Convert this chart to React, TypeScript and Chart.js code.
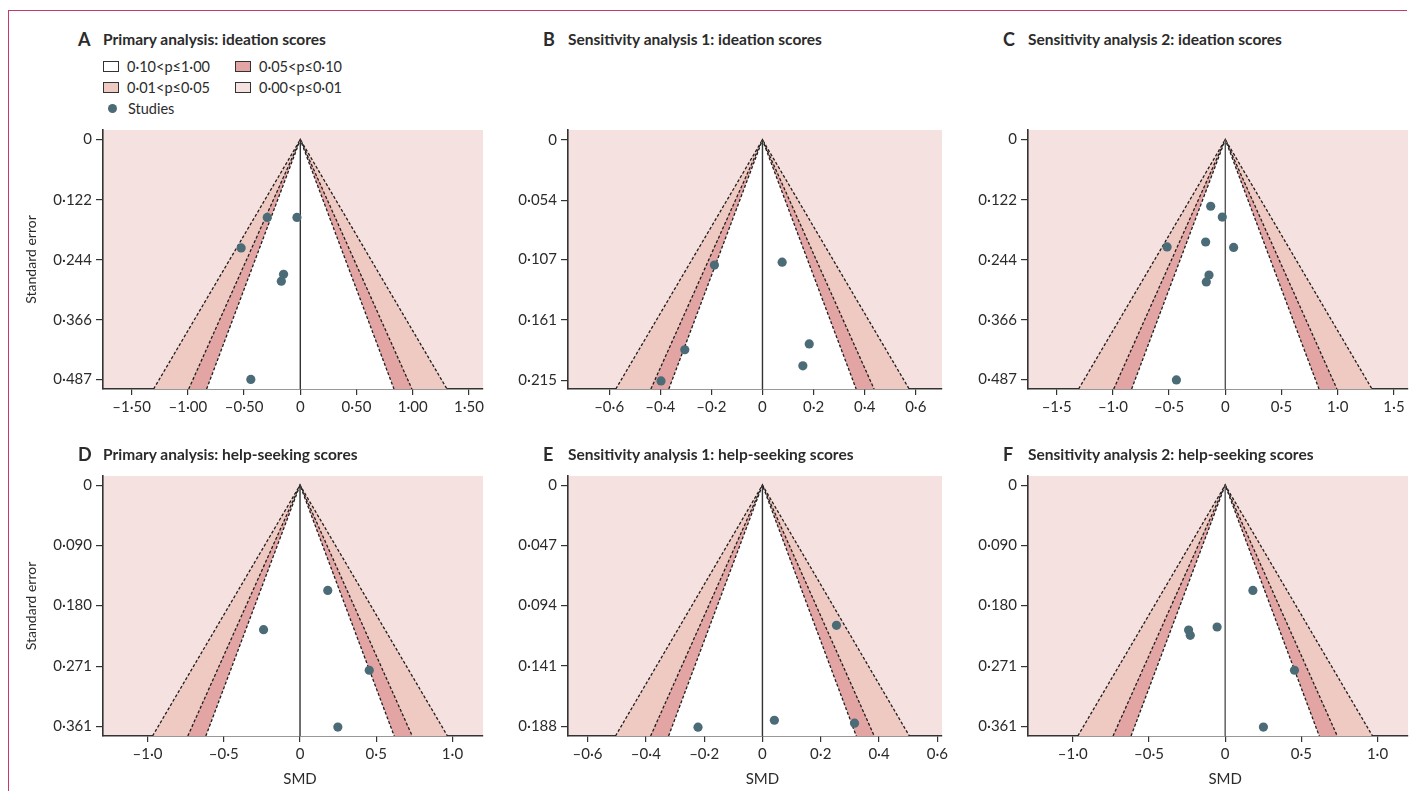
import React, { useEffect, useRef } from 'react';
import { Chart, registerables } from 'chart.js';
Chart.register(...registerables);

// ---------- data ----------
const smdA = [-0.294, -0.03, -0.526, -0.149, -0.169, -0.44];
const seA = [0.158, 0.158, 0.22, 0.2735, 0.2875, 0.487];

const smdB = [-0.188, 0.077, -0.304, 0.183, 0.158, -0.397];
const seB = [0.112, 0.1094, 0.1877, 0.1825, 0.2021, 0.2156];

const smdC = [-0.13, -0.027, -0.175, -0.518, 0.074, -0.145, -0.169, -0.435];
const seC = [0.1354, 0.1574, 0.208, 0.218, 0.219, 0.275, 0.289, 0.488];

const smdD = [0.182, -0.239, 0.454, 0.248];
const seD = [0.1575, 0.2163, 0.277, 0.362];

const smdE = [0.254, 0.041, 0.316, -0.221];
const seE = [0.1094, 0.1834, 0.1857, 0.1888];

const smdF = [0.182, -0.053, -0.24, -0.229, 0.455, 0.251];
const seF = [0.1575, 0.2123, 0.2168, 0.2247, 0.277, 0.362];

// contour z values: p = 0.01, 0.05, 0.10 (two-sided)
const contourZ = [2.576, 1.96, 1.645];

// tick values and labels
const yTicksIdeation = [0, 0.122, 0.244, 0.366, 0.487];
const yLabelsIdeation = ['0', '0·122', '0·244', '0·366', '0·487'];
const yTicksB = [0, 0.054, 0.107, 0.161, 0.215];
const yLabelsB = ['0', '0·054', '0·107', '0·161', '0·215'];
const yTicksHelp = [0, 0.09, 0.18, 0.271, 0.361];
const yLabelsHelp = ['0', '0·090', '0·180', '0·271', '0·361'];
const yTicksE = [0, 0.047, 0.094, 0.141, 0.188];
const yLabelsE = ['0', '0·047', '0·094', '0·141', '0·188'];

const xTicksA = [-1.5, -1, -0.5, 0, 0.5, 1, 1.5];
const xLabelsA = ['–1·50', '–1·00', '–0·50', '0', '0·50', '1·00', '1·50'];
const xTicksSmall = [-0.6, -0.4, -0.2, 0, 0.2, 0.4, 0.6];
const xLabelsSmall = ['–0·6', '–0·4', '–0·2', '0', '0·2', '0·4', '0·6'];
const xTicksC = [-1.5, -1, -0.5, 0, 0.5, 1, 1.5];
const xLabelsC = ['–1·5', '–1·0', '–0·5', '0', '0·5', '1·0', '1·5'];
const xTicksHelp = [-1, -0.5, 0, 0.5, 1];
const xLabelsHelp = ['–1·0', '–0·5', '0', '0·5', '1·0'];

const legendLabels = ['0·10<p≤1·00', '0·05<p≤0·10', '0·01<p≤0·05', '0·00<p≤0·01'];
const studiesLabel = 'Studies';

// ---------- styles ----------
const FONT = 'Lato, "Open Sans", "DejaVu Sans", sans-serif';
const COL_OUTER = '#f5e1df';
const COL_P05 = '#eecac2';
const COL_P10 = '#e2a5a4';
const COL_WHITE = '#ffffff';
const contourFill = [COL_P05, COL_P10, COL_WHITE];
const COL_POINT = '#4b6b76';
const COL_AXIS = '#333333';
const COL_TEXT = '#2b2b2b';

type Rect = { l: number; t: number; r: number; b: number };
type PanelDef = {
  letter: string;
  title: string;
  smd: number[];
  se: number[];
  xTicks: number[];
  xLabels: string[];
  yTicks: number[];
  yLabels: string[];
  xMin: number;
  xMax: number;
  yMin: number;
  yMax: number;
  rect: Rect;
  titleBase: number;
  yTitle: boolean;
  smdLabel: boolean;
  zeroColor: string;
};

const panels: PanelDef[] = [
  { letter: 'A', title: 'Primary analysis: ideation scores', smd: smdA, se: seA, xTicks: xTicksA, xLabels: xLabelsA, yTicks: yTicksIdeation, yLabels: yLabelsIdeation, xMin: -1.755, xMax: 1.625, yMin: -0.0195, yMax: 0.5065, rect: { l: 103, t: 127, r: 483, b: 389 }, titleBase: 45, yTitle: true, smdLabel: false, zeroColor: '#333' },
  { letter: 'B', title: 'Sensitivity analysis 1: ideation scores', smd: smdB, se: seB, xTicks: xTicksSmall, xLabels: xLabelsSmall, yTicks: yTicksB, yLabels: yLabelsB, xMin: -0.761, xMax: 0.7025, yMin: -0.0088, yMax: 0.2228, rect: { l: 568, t: 127, r: 942, b: 389 }, titleBase: 45, yTitle: false, smdLabel: false, zeroColor: '#333' },
  { letter: 'C', title: 'Sensitivity analysis 2: ideation scores', smd: smdC, se: seC, xTicks: xTicksC, xLabels: xLabelsC, yTicks: yTicksIdeation, yLabels: yLabelsIdeation, xMin: -1.755, xMax: 1.625, yMin: -0.0195, yMax: 0.5065, rect: { l: 1028, t: 127, r: 1408, b: 389 }, titleBase: 45, yTitle: false, smdLabel: false, zeroColor: '#555' },
  { letter: 'D', title: 'Primary analysis: help-seeking scores', smd: smdD, se: seD, xTicks: xTicksHelp, xLabels: xLabelsHelp, yTicks: yTicksHelp, yLabels: yLabelsHelp, xMin: -1.292, xMax: 1.2, yMin: -0.0137, yMax: 0.3754, rect: { l: 103, t: 473, r: 483, b: 736 }, titleBase: 460, yTitle: true, smdLabel: true, zeroColor: '#333' },
  { letter: 'E', title: 'Sensitivity analysis 1: help-seeking scores', smd: smdE, se: seE, xTicks: xTicksSmall, xLabels: xLabelsSmall, yTicks: yTicksE, yLabels: yLabelsE, xMin: -0.667, xMax: 0.616, yMin: -0.0071, yMax: 0.1957, rect: { l: 568, t: 473, r: 942, b: 736 }, titleBase: 460, yTitle: false, smdLabel: true, zeroColor: '#333' },
  { letter: 'F', title: 'Sensitivity analysis 2: help-seeking scores', smd: smdF, se: seF, xTicks: xTicksHelp, xLabels: xLabelsHelp, yTicks: yTicksHelp, yLabels: yLabelsHelp, xMin: -1.294, xMax: 1.2, yMin: -0.0137, yMax: 0.3754, rect: { l: 1028, t: 473, r: 1408, b: 736 }, titleBase: 460, yTitle: false, smdLabel: true, zeroColor: '#555' },
];

const PAD_LEFT = 100; // y axis box width
const PAD_TOP = 10;
const PAD_RIGHT = 25;
const X_AXIS_H = 60;

const bgPlugin = {
  id: 'funnelBg',
  beforeDraw(chart: any) {
    const { ctx, chartArea } = chart;
    ctx.save();
    ctx.fillStyle = COL_OUTER;
    ctx.fillRect(chartArea.left, chartArea.top, chartArea.right - chartArea.left, chartArea.bottom - chartArea.top);
    ctx.restore();
  },
  afterDraw(chart: any) {
    const opts = chart.options.plugins.funnelBg || {};
    if (!opts.smdLabel) return;
    const { ctx, chartArea, scales } = chart;
    ctx.save();
    ctx.font = `15px ${FONT}`;
    ctx.fillStyle = COL_TEXT;
    ctx.textAlign = 'center';
    ctx.textBaseline = 'middle';
    ctx.fillText('SMD', scales.x.getPixelForValue(0), chartArea.bottom + 43);
    ctx.restore();
  },
};

function Panel({ p }: { p: PanelDef }) {
  const ref = useRef<HTMLCanvasElement | null>(null);
  const w = p.rect.r - p.rect.l + PAD_LEFT + PAD_RIGHT;
  const h = p.rect.b - p.rect.t + PAD_TOP + X_AXIS_H;

  useEffect(() => {
    if (!ref.current) return;
    const yBottom = p.yMax;
    const contourSets = contourZ.map((z, i) => ({
      type: 'line' as const,
      data: [
        { x: -z * yBottom, y: yBottom },
        { x: 0, y: 0 },
        { x: z * yBottom, y: yBottom },
      ],
      borderColor: '#1f1f1f',
      borderWidth: 1.3,
      borderDash: [3, 2],
      backgroundColor: contourFill[i],
      fill: { value: yBottom },
      pointRadius: 0,
      tension: 0,
      order: 10 - i,
    }));
    const zeroLine = {
      type: 'line' as const,
      data: [
        { x: 0, y: 0 },
        { x: 0, y: yBottom },
      ],
      borderColor: p.zeroColor,
      borderWidth: 1.4,
      pointRadius: 0,
      fill: false,
      order: 2,
    };
    const studies = {
      type: 'scatter' as const,
      data: p.smd.map((x, i) => ({ x, y: p.se[i] })),
      pointRadius: 4.6,
      pointBackgroundColor: COL_POINT,
      pointBorderWidth: 0,
      pointBorderColor: COL_POINT,
      order: 0,
    };
    const chart = new Chart(ref.current, {
      type: 'scatter',
      data: { datasets: [...contourSets, zeroLine, studies] as any },
      plugins: [bgPlugin],
      options: {
        responsive: false,
        animation: false,
        devicePixelRatio: 1,
        events: [],
        layout: { padding: { left: 0, top: PAD_TOP, right: PAD_RIGHT, bottom: 0 } },
        plugins: {
          legend: { display: false },
          tooltip: { enabled: false },
          funnelBg: { smdLabel: p.smdLabel },
        } as any,
        scales: {
          x: {
            type: 'linear',
            min: p.xMin,
            max: p.xMax,
            z: 1,
            afterFit: (s: any) => {
              s.height = X_AXIS_H;
            },
            afterBuildTicks: (s: any) => {
              s.ticks = p.xTicks.map((v) => ({ value: v }));
            },
            ticks: {
              autoSkip: false,
              maxRotation: 0,
              callback: (_v: any, i: number) => p.xLabels[i],
              font: { family: FONT, size: 15 },
              color: COL_TEXT,
              padding: 3,
            },
            grid: { drawOnChartArea: false, drawTicks: true, tickLength: 6, color: COL_AXIS, lineWidth: 1.2 },
            border: { display: true, color: COL_AXIS, width: 1.6 },
          },
          y: {
            type: 'linear',
            reverse: true,
            min: p.yMin,
            max: p.yMax,
            z: 1,
            afterFit: (s: any) => {
              s.width = PAD_LEFT;
            },
            afterBuildTicks: (s: any) => {
              s.ticks = p.yTicks.map((v) => ({ value: v }));
            },
            ticks: {
              autoSkip: false,
              callback: (_v: any, i: number) => p.yLabels[i],
              font: { family: FONT, size: 15 },
              color: COL_TEXT,
              padding: 4,
            },
            title: {
              display: p.yTitle,
              text: 'Standard error',
              font: { family: FONT, size: 14 },
              color: COL_TEXT,
              padding: { top: 20, bottom: 0 },
            },
            grid: { drawOnChartArea: false, drawTicks: true, tickLength: 7, color: COL_AXIS, lineWidth: 1.2 },
            border: { display: true, color: COL_AXIS, width: 1.6 },
          },
        },
      } as any,
    });
    return () => chart.destroy();
  }, [p]);

  return (
    <>
      <div
        style={{
          position: 'absolute',
          left: p.rect.l - 25,
          top: p.titleBase - 15,
          fontFamily: FONT,
          fontWeight: 700,
          fontSize: 18,
          lineHeight: '18px',
          color: COL_TEXT,
        }}
      >
        {p.letter}
      </div>
      <div
        style={{
          position: 'absolute',
          left: p.rect.l,
          top: p.titleBase - 13.5,
          fontFamily: FONT,
          fontWeight: 700,
          fontSize: 15.5,
          lineHeight: '15.5px',
          color: COL_TEXT,
          whiteSpace: 'nowrap',
        }}
      >
        {p.title}
      </div>
      <canvas
        ref={ref}
        width={w}
        height={h}
        style={{ position: 'absolute', left: p.rect.l - PAD_LEFT, top: p.rect.t - PAD_TOP, width: w, height: h }}
      />
    </>
  );
}

function LegendBox({ color, label, x, y }: { color: string; label: string; x: number; y: number }) {
  return (
    <div style={{ position: 'absolute', left: x, top: y - 9, height: 18, display: 'flex', alignItems: 'center', fontFamily: FONT, fontSize: 14.5, color: COL_TEXT, whiteSpace: 'nowrap' }}>
      <div style={{ width: 16, height: 11, background: color, border: '1px solid #333', marginRight: 8, boxSizing: 'border-box' }} />
      <span>{label}</span>
    </div>
  );
}

export default function App() {
  return (
    <div style={{ position: 'absolute', left: 0, top: 0, width: 1412, height: 791, overflow: 'hidden', background: '#fff' }}>
      <div style={{ position: 'absolute', left: 8, top: 10, width: 1398, height: 800, borderTop: '1.5px solid #c53a66', borderLeft: '1.5px solid #c53a66' }} />
      {panels.map((p) => (
        <Panel key={p.letter} p={p} />
      ))}
      <LegendBox color={COL_WHITE} label={legendLabels[0]} x={103} y={66} />
      <LegendBox color={COL_P10} label={legendLabels[1]} x={235} y={66} />
      <LegendBox color={COL_P05} label={legendLabels[2]} x={103} y={87} />
      <LegendBox color={COL_OUTER} label={legendLabels[3]} x={235} y={87} />
      <div style={{ position: 'absolute', left: 108, top: 99, height: 18, display: 'flex', alignItems: 'center', fontFamily: FONT, fontSize: 14.5, color: COL_TEXT }}>
        <div style={{ width: 9, height: 9, borderRadius: '50%', background: COL_POINT, marginRight: 11 }} />
        <span>{studiesLabel}</span>
      </div>
    </div>
  );
}
